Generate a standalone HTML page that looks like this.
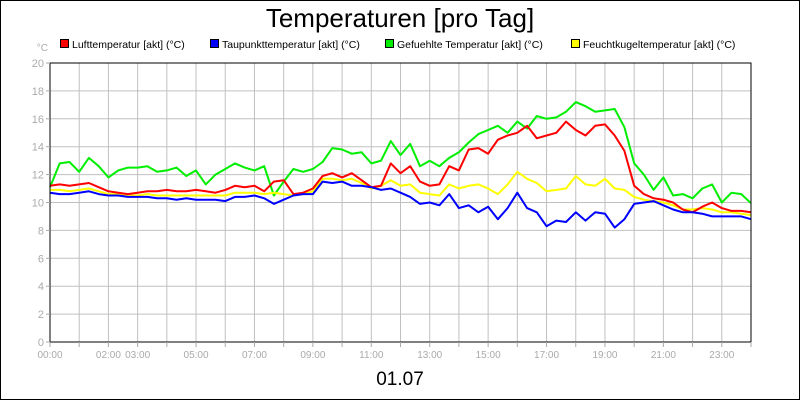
<!DOCTYPE html>
<html><head><meta charset="utf-8"><style>
html,body{margin:0;padding:0;background:#fff}
svg{display:block;font-family:"Liberation Sans",sans-serif}
</style></head><body>
<svg id="chart" width="800" height="400" viewBox="0 0 800 400">
<rect x="0.5" y="0.5" width="799" height="399" fill="#fff" stroke="#000"/>
<text x="400" y="27" font-size="26" text-anchor="middle">Temperaturen [pro Tag]</text>
<text x="48" y="51" font-size="10" fill="#aaa" text-anchor="end">°C</text>
<g id="legend"></g>
<g id="grid"></g>
<g id="series"></g>
<rect x="50" y="63" width="701" height="279" fill="none" stroke="#000" stroke-width="1"/>
<g id="axes"></g>
<text x="400" y="385" font-size="19" text-anchor="middle">01.07</text>
</svg>
<script>
const hours = [];
for (let i = 0; i <= 72; i++) hours.push(i / 3);
const yTicks = [0,2,4,6,8,10,12,14,16,18,20];
const xTickLabels = ["00:00","02:00","03:00","05:00","07:00","09:00","11:00","13:00","15:00","17:00","19:00","21:00","23:00"];
const xTickHours = [0,2,3,5,7,9,11,13,15,17,19,21,23];
const seriesNames = ["Lufttemperatur [akt] (°C)","Taupunkttemperatur [akt] (°C)","Gefuehlte Temperatur [akt] (°C)","Feuchtkugeltemperatur [akt] (°C)"];
const seriesColors = ["#ff0000","#0000ff","#00ee00","#ffff00"];
const luft = [11.2,11.3,11.2,11.3,11.4,11.1,10.8,10.7,10.6,10.7,10.8,10.8,10.9,10.8,10.8,10.9,10.8,10.7,10.9,11.2,11.1,11.2,10.8,11.5,11.6,10.6,10.7,11.0,11.9,12.1,11.8,12.1,11.6,11.1,11.2,12.8,12.1,12.6,11.5,11.2,11.3,12.6,12.3,13.8,13.9,13.5,14.5,14.8,15.0,15.5,14.6,14.8,15.0,15.8,15.2,14.8,15.5,15.6,14.8,13.7,11.2,10.6,10.3,10.2,10.0,9.5,9.3,9.7,10.0,9.6,9.4,9.4,9.3];
const tau = [10.7,10.6,10.6,10.7,10.8,10.6,10.5,10.5,10.4,10.4,10.4,10.3,10.3,10.2,10.3,10.2,10.2,10.2,10.1,10.4,10.4,10.5,10.3,9.9,10.2,10.5,10.6,10.6,11.5,11.4,11.5,11.2,11.2,11.1,10.9,11.0,10.7,10.4,9.9,10.0,9.8,10.6,9.6,9.8,9.3,9.7,8.8,9.6,10.7,9.6,9.3,8.3,8.7,8.6,9.3,8.7,9.3,9.2,8.2,8.8,9.9,10.0,10.1,9.8,9.5,9.3,9.3,9.2,9.0,9.0,9.0,9.0,8.8];
const gefuehlt = [11.1,12.8,12.9,12.2,13.2,12.6,11.8,12.3,12.5,12.5,12.6,12.2,12.3,12.5,11.9,12.3,11.3,12.0,12.4,12.8,12.5,12.3,12.6,10.5,11.5,12.4,12.2,12.4,12.9,13.9,13.8,13.5,13.6,12.8,13.0,14.4,13.4,14.2,12.6,13.0,12.6,13.2,13.6,14.3,14.9,15.2,15.5,15.0,15.8,15.3,16.2,16.0,16.1,16.5,17.2,16.9,16.5,16.6,16.7,15.4,12.8,12.0,10.9,11.8,10.5,10.6,10.3,11.0,11.3,10.0,10.7,10.6,9.95];
const feucht = [10.9,10.9,10.8,10.9,11.0,10.8,10.6,10.6,10.5,10.5,10.6,10.5,10.5,10.5,10.5,10.5,10.5,10.5,10.5,10.7,10.7,10.7,10.6,10.7,10.6,10.5,10.6,10.8,11.7,11.7,11.6,11.7,11.4,11.0,11.2,11.6,11.2,11.3,10.7,10.6,10.5,11.3,11.0,11.2,11.3,11.0,10.6,11.3,12.2,11.7,11.4,10.8,10.9,11.0,11.9,11.3,11.2,11.7,11.0,10.9,10.4,10.2,10.1,10.0,9.8,9.5,9.5,9.6,9.5,9.3,9.3,9.2,9.1];

const NS = "http://www.w3.org/2000/svg";
const X0 = 50, X1 = 751, Y0 = 342, Y1 = 63;
const xScale = h => X0 + (h / 24) * (X1 - X0);
const yScale = v => Y0 - (v / 20) * (Y0 - Y1);
function mk(tag, attrs, parent){const e=document.createElementNS(NS,tag);for(const k in attrs)e.setAttribute(k,attrs[k]);parent.appendChild(e);return e;}

const grid = document.getElementById('grid');
const axes = document.getElementById('axes');
for (let h = 1; h < 24; h++) {
  const l = mk('line',{x1:xScale(h),x2:xScale(h),y1:Y1,y2:Y0,stroke:'#c0c0c0','stroke-width':1},grid);
  
  
}
for (let h = 0; h <= 24; h++) {
  const t = mk('line',{x1:xScale(h),x2:xScale(h),y1:Y0,y2:Y0+5,stroke:'#aaa','stroke-width':1},axes);
  
  
}
yTicks.forEach(v => {
  if (v > 0 && v < 20) {
    const l = mk('line',{x1:X0,x2:X1,y1:yScale(v),y2:yScale(v),stroke:'#c0c0c0','stroke-width':1},grid);
    
    
  }
  const t = mk('line',{x1:X0-4,x2:X0,y1:yScale(v),y2:yScale(v),stroke:'#aaa'},axes);
  
  
  const tx = mk('text',{x:X0-6,y:yScale(v)+4,'font-size':11,fill:'#aaa','text-anchor':'end'},axes);
  tx.textContent = v;
  
  
});
xTickLabels.forEach((lab,i) => {
  const tx = mk('text',{x:xScale(xTickHours[i]),y:358,'font-size':10,fill:'#aaa','text-anchor':'middle'},axes);
  tx.textContent = lab;
  
  
});

const sg = document.getElementById('series');
const allSeries = [gefuehlt, feucht, luft, tau];
const allIdx = [2,3,0,1];
allSeries.forEach((vals,k) => {
  let d = '', pen = false;
  vals.forEach((v,i) => {
    if (v === null) { pen = false; return; }
    d += (pen ? 'L' : 'M') + xScale(hours[i]).toFixed(1) + ' ' + yScale(v).toFixed(1) + ' ';
    pen = true;
  });
  const p = mk('path',{d:d,fill:'none',stroke:seriesColors[allIdx[k]],'stroke-width':2,'stroke-linejoin':'round'},sg);
  
  
});

const lg = document.getElementById('legend');
const legX = [60,210,385,571];
seriesNames.forEach((n,i) => {
  const r = mk('rect',{x:legX[i]+0.5,y:39.5,width:8,height:8,fill:seriesColors[i],stroke:'#000'},lg);
  
  
  const t = mk('text',{x:legX[i]+12,y:48,'font-size':10.5},lg);
  t.textContent = n;
  
  
});
</script>
</body></html>
